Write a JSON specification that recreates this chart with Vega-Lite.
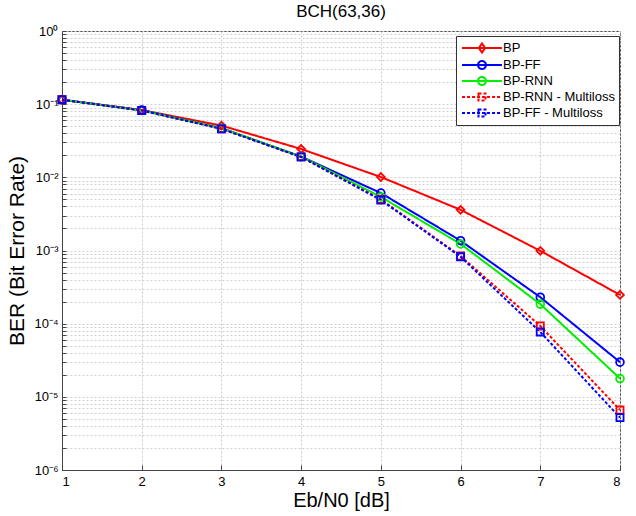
{
  "$schema": "https://vega.github.io/schema/vega-lite/v6.json",
  "width": 558,
  "height": 439,
  "autosize": "none",
  "padding": {"left": 62, "top": 31, "right": 16, "bottom": 46},
  "background": "white",
  "config": {
    "font": "Liberation Sans",
    "view": {"stroke": "#444", "strokeWidth": 1},
    "axis": {"labelColor": "black", "titleColor": "black", "domainColor": "#444", "tickColor": "#444", "labelFont": "Liberation Sans", "titleFont": "Liberation Sans"}
  },
  "title": {"text": "BCH(63,36)", "fontSize": 17, "fontWeight": "normal", "font": "Liberation Sans", "offset": 4, "color": "black"},
  "data": {"values": [
    {"snr": 1, "ber": 0.115, "series": "BP"},
    {"snr": 2, "ber": 0.083, "series": "BP"},
    {"snr": 3, "ber": 0.051, "series": "BP"},
    {"snr": 4, "ber": 0.0244, "series": "BP"},
    {"snr": 5, "ber": 0.0101, "series": "BP"},
    {"snr": 6, "ber": 0.0036, "series": "BP"},
    {"snr": 7, "ber": 0.00099, "series": "BP"},
    {"snr": 8, "ber": 0.000247, "series": "BP"},
    {"snr": 1, "ber": 0.115, "series": "BP-FF"},
    {"snr": 2, "ber": 0.083, "series": "BP-FF"},
    {"snr": 3, "ber": 0.047, "series": "BP-FF"},
    {"snr": 4, "ber": 0.0192, "series": "BP-FF"},
    {"snr": 5, "ber": 0.0061, "series": "BP-FF"},
    {"snr": 6, "ber": 0.00136, "series": "BP-FF"},
    {"snr": 7, "ber": 0.00023, "series": "BP-FF"},
    {"snr": 8, "ber": 0.0000298, "series": "BP-FF"},
    {"snr": 1, "ber": 0.115, "series": "BP-RNN"},
    {"snr": 2, "ber": 0.082, "series": "BP-RNN"},
    {"snr": 3, "ber": 0.047, "series": "BP-RNN"},
    {"snr": 4, "ber": 0.0192, "series": "BP-RNN"},
    {"snr": 5, "ber": 0.0054, "series": "BP-RNN"},
    {"snr": 6, "ber": 0.00123, "series": "BP-RNN"},
    {"snr": 7, "ber": 0.000185, "series": "BP-RNN"},
    {"snr": 8, "ber": 0.0000178, "series": "BP-RNN"},
    {"snr": 1, "ber": 0.115, "series": "BP-RNN - Multiloss"},
    {"snr": 2, "ber": 0.082, "series": "BP-RNN - Multiloss"},
    {"snr": 3, "ber": 0.046, "series": "BP-RNN - Multiloss"},
    {"snr": 4, "ber": 0.019, "series": "BP-RNN - Multiloss"},
    {"snr": 5, "ber": 0.005, "series": "BP-RNN - Multiloss"},
    {"snr": 6, "ber": 0.00084, "series": "BP-RNN - Multiloss"},
    {"snr": 7, "ber": 0.000093, "series": "BP-RNN - Multiloss"},
    {"snr": 8, "ber": 0.0000066, "series": "BP-RNN - Multiloss"},
    {"snr": 1, "ber": 0.115, "series": "BP-FF - Multiloss"},
    {"snr": 2, "ber": 0.082, "series": "BP-FF - Multiloss"},
    {"snr": 3, "ber": 0.046, "series": "BP-FF - Multiloss"},
    {"snr": 4, "ber": 0.019, "series": "BP-FF - Multiloss"},
    {"snr": 5, "ber": 0.0049, "series": "BP-FF - Multiloss"},
    {"snr": 6, "ber": 0.00082, "series": "BP-FF - Multiloss"},
    {"snr": 7, "ber": 0.000077, "series": "BP-FF - Multiloss"},
    {"snr": 8, "ber": 0.0000052, "series": "BP-FF - Multiloss"}
  ]},
  "encoding": {
    "x": {"field": "snr", "type": "quantitative",
      "scale": {"domain": [1, 8], "nice": false, "zero": false},
      "axis": {"values": [1,2,3,4,5,6,7,8], "title": "Eb/N0 [dB]", "titleFontSize": 20, "titleFontWeight": "normal", "labelFontSize": 13, "tickSize": -5, "labelPadding": 10, "titlePadding": 2, "grid": true, "gridDash": [2,2], "gridColor": "#c8c8c8", "domain": true}},
    "y": {"field": "ber", "type": "quantitative",
      "scale": {"type": "log", "domain": [0.000001, 1], "nice": false},
      "axis": {
        "values": [0.000001,0.000002,0.000003,0.000004,0.000005,0.000006,0.000007,0.000008,0.000009,
                   0.00001,0.00002,0.00003,0.00004,0.00005,0.00006,0.00007,0.00008,0.00009,
                   0.0001,0.0002,0.0003,0.0004,0.0005,0.0006,0.0007,0.0008,0.0009,
                   0.001,0.002,0.003,0.004,0.005,0.006,0.007,0.008,0.009,
                   0.01,0.02,0.03,0.04,0.05,0.06,0.07,0.08,0.09,
                   0.1,0.2,0.3,0.4,0.5,0.6,0.7,0.8,0.9,1],
        "labelExpr": "abs(log(datum.value)/LN10 - round(log(datum.value)/LN10)) < 0.001 ? ['10⁰','10⁻¹','10⁻²','10⁻³','10⁻⁴','10⁻⁵','10⁻⁶'][round(-log(datum.value)/LN10)] : ''",
        "title": "BER (Bit Error Rate)", "titleFontSize": 21, "titleFontWeight": "normal", "labelFontSize": 13,
        "tickSize": -4, "labelPadding": 8, "titlePadding": 6, "grid": true, "gridDash": [2,2], "gridColor": "#d0d0d0", "labelOverlap": false, "labelFlush": false}},
    "color": {"field": "series", "type": "nominal",
      "scale": {"domain": ["BP","BP-FF","BP-RNN","BP-RNN - Multiloss","BP-FF - Multiloss"], "range": ["#ff0000","#0000ff","#00ee00","#ff0000","#0000ff"]},
      "legend": {"title": null, "orient": "none", "legendX": 394, "legendY": 5, "strokeColor": "#333", "fillColor": "white", "padding": 4, "labelFontSize": 13, "labelFont": "Liberation Sans", "symbolStrokeWidth": 2, "rowPadding": 0, "symbolSize": 196, "symbolOffset": 14, "labelOffset": 13, "symbolType": "stroke",
        "encode": {"symbols": {"update": {"shape": {"signal": "datum.value === 'BP' ? 'M-2.85,0H2.85M0,-0.65L0.45,0L0,0.65L-0.45,0Z' : indexof(datum.value, 'Multiloss') >= 0 ? 'M-2.85,0H2.85M-0.5,-0.5H0.5V0.5H-0.5Z' : 'M-2.85,0H2.85M-0.57,0A0.57,0.57 0 1,0 0.57,0A0.57,0.57 0 1,0 -0.57,0'"}}}}}}
  },
  "layer": [
    {
      "mark": {"type": "line", "strokeWidth": 2},
      "encoding": {
        "strokeDash": {"field": "series", "type": "nominal",
          "scale": {"domain": ["BP","BP-FF","BP-RNN","BP-RNN - Multiloss","BP-FF - Multiloss"], "range": [[1,0],[1,0],[1,0],[3,2],[3,2]]},
          "legend": null}
      }
    },
    {
      "transform": [{"filter": "datum.series === 'BP'"}],
      "mark": {"type": "point", "filled": false, "strokeWidth": 1.8, "size": 60, "opacity": 1, "shape": "diamond"}
    },
    {
      "transform": [{"filter": "datum.series === 'BP-FF' || datum.series === 'BP-RNN'"}],
      "mark": {"type": "point", "filled": false, "strokeWidth": 1.8, "size": 60, "opacity": 1, "shape": "circle"}
    },
    {
      "transform": [{"filter": "indexof(datum.series, 'Multiloss') >= 0"}],
      "mark": {"type": "point", "filled": false, "strokeWidth": 1.8, "size": 50, "opacity": 1, "shape": "square"}
    }
  ]
}
